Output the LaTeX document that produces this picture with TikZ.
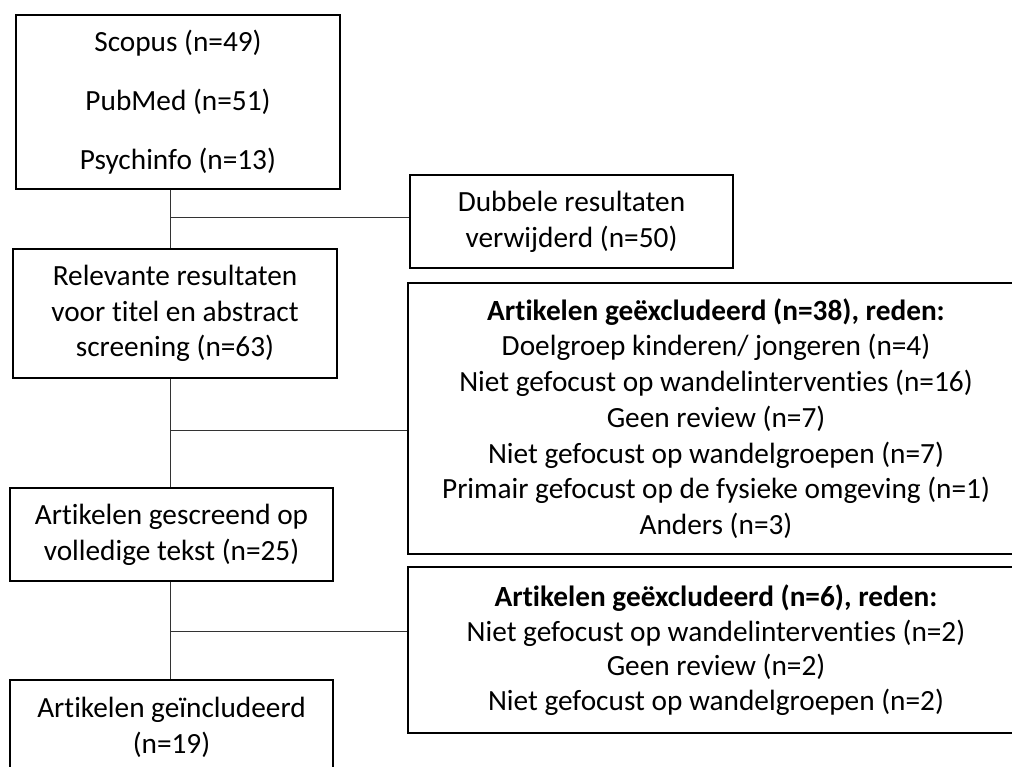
\documentclass[tikz,border=0pt]{standalone}
\usepackage{fontspec}
\setmainfont{Carlito}[Ligatures=CommonOff]
\begin{document}
\begin{tikzpicture}[x=1pt, y=-1pt,
    font=\fontsize{29.3}{35.7}\selectfont,
    box/.style={draw, line width=1.3pt, align=center, inner sep=0pt},
    link/.style={line width=1pt, black!80}]
            % Page
            \useasboundingbox (0,0) rectangle (1012,767);
            \clip (0,0) rectangle (1012,767);

            % Left column
            \node[box, minimum width=324, minimum height=174] (search) at (178,102)
                {Scopus (n=49)\\[23.3pt] PubMed (n=51)\\[23.3pt] Psychinfo (n=13)};
            \node[box, minimum width=324, minimum height=129] (relevant) at (175,313.5)
                {Relevante resultaten\\ voor titel en abstract\\ screening (n=63)};
            \node[box, minimum width=323, minimum height=93] (fulltext) at (171.5,534.5)
                {Artikelen gescreend op\\ volledige tekst (n=25)};
            \node[box, minimum width=323, minimum height=95] (included) at (171.5,727.5)
                {Artikelen geïncludeerd\\ (n=19)};

            % Right column (exclusion boxes run off the page)
            \node[box, minimum width=323, minimum height=93] (doubles) at (571.5,221.5)
                {Dubbele resultaten\\ verwijderd (n=50)};
            \node[box, minimum width=616, minimum height=271] (excl1) at (716,418.5)
                {\textbf{Artikelen geëxcludeerd (n=38), reden:}\\
                Doelgroep kinderen/ jongeren (n=4)\\
                Niet gefocust op wandelinterventies (n=16)\\
                Geen review (n=7)\\
                Niet gefocust op wandelgroepen (n=7)\\
                Primair gefocust op de fysieke omgeving (n=1)\\
                Anders (n=3)};
            \node[box, font=\fontsize{29.3}{34.5}\selectfont, minimum width=616, minimum height=166] (excl2) at (716,650)
                {\textbf{Artikelen geëxcludeerd (n=6), reden:}\\
                Niet gefocust op wandelinterventies (n=2)\\
                Geen review (n=2)\\
                Niet gefocust op wandelgroepen (n=2)};

            % Junctions
            \coordinate (j1) at (170,218);
            \coordinate (j2) at (170,430);
            \coordinate (j3) at (170,631);

            % Connectors
            \draw[link] (j1 |- search.south) -- (j1 |- relevant.north);
            \draw[link] (j1) -- (j1 -| doubles.west);
            \draw[link] (j2 |- relevant.south) -- (j2 |- fulltext.north);
            \draw[link] (j2) -- (j2 -| excl1.west);
            \draw[link] (j3 |- fulltext.south) -- (j3 |- included.north);
            \draw[link] (j3) -- (j3 -| excl2.west);

        \end{tikzpicture}
\end{document}
